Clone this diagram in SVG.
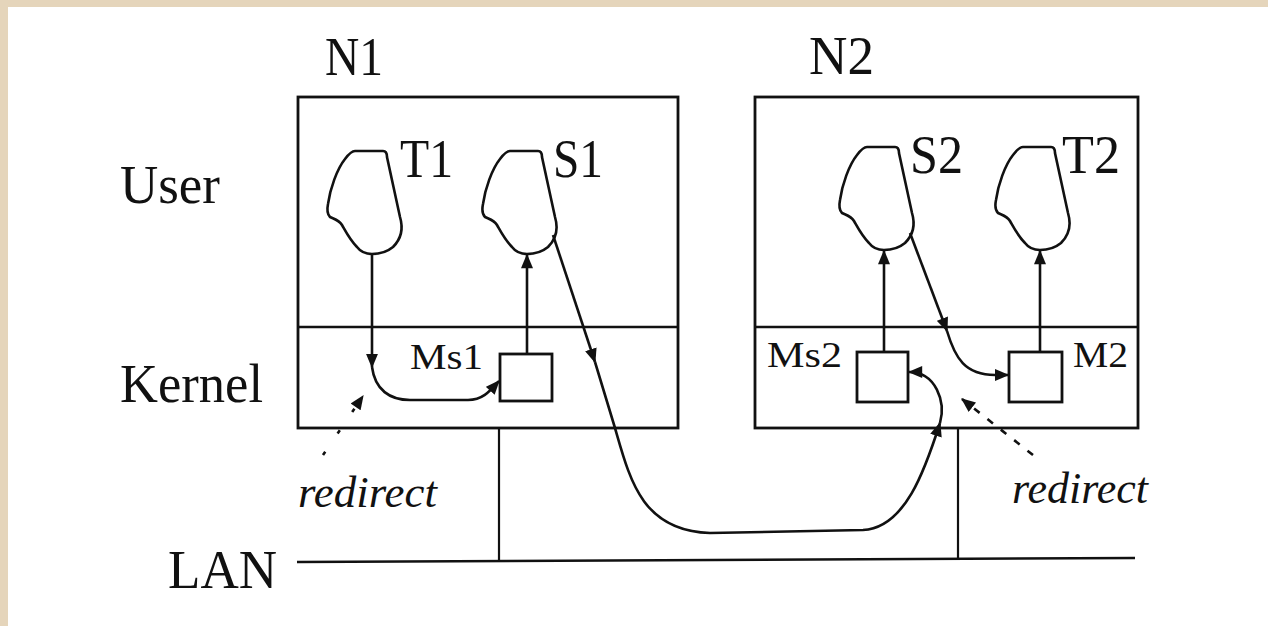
<svg xmlns="http://www.w3.org/2000/svg" width="1268" height="626" viewBox="0 0 1268 626">
<style>
.ln{fill:none;stroke:#111;stroke-width:2.6}
.th{fill:none;stroke:#111;stroke-width:2.2}
.bx{fill:#fff;stroke:#111;stroke-width:2.8}
.t{font-family:"Liberation Serif","Times New Roman",serif;fill:#111}
.big{font-size:54px}
.sm{font-size:35px}
.it{font-size:44px;font-style:italic}
.ds{fill:none;stroke:#111;stroke-width:2.6}
</style>
<defs>
<marker id="ah" viewBox="0 0 12 10" refX="11" refY="5" markerWidth="15" markerHeight="12" markerUnits="userSpaceOnUse" orient="auto">
<path d="M0,0 L12,5 L0,10 Z" fill="#111"/>
</marker>
<path id="blob" d="M0,0 C-7,0 -12,-3 -15,-7 C-22,-14 -26,-22 -30,-29 C-33,-34 -38,-35 -42,-37 C-45,-40 -45,-45 -44,-50 C-42,-65 -35,-85 -27,-95 C-24,-99 -21,-103 -17,-103 L11,-103 C14,-103 15,-100 15,-97 C19,-78 24,-56 28,-37 C31,-27 30,-16 21,-7 C15,-2 8,0 0,0 Z" fill="#fff" stroke="#111" stroke-width="2.6"/>
</defs>
<rect x="0" y="0" width="1268" height="626" fill="#e5d5bb"/>
<rect x="8" y="7" width="1260" height="619" fill="#fff"/>

<g id="labels">
<text class="t big" x="325" y="75" textLength="58" lengthAdjust="spacingAndGlyphs">N1</text>
<text class="t big" x="809" y="74" textLength="65" lengthAdjust="spacingAndGlyphs">N2</text>
<text class="t big" x="120" y="203" textLength="100" lengthAdjust="spacingAndGlyphs">User</text>
<text class="t big" x="120" y="402" textLength="143" lengthAdjust="spacingAndGlyphs">Kernel</text>
<text class="t big" x="168" y="588" textLength="109" lengthAdjust="spacingAndGlyphs">LAN</text>
</g>

<g id="N1">
<rect class="bx" x="298" y="97" width="380" height="331"/>
<line class="ln" x1="298" y1="327" x2="678" y2="327"/>
</g>
<g id="N2">
<rect class="bx" x="755" y="97" width="383" height="331"/>
<line class="ln" x1="755" y1="327" x2="1138" y2="327"/>
</g>

<g id="LAN">
<path class="ln" d="M297,562 L1135,558"/>
</g>

<g id="T1">
<use href="#blob" x="372" y="254"/>
<text class="t big" x="400" y="177" textLength="53" lengthAdjust="spacingAndGlyphs">T1</text>
</g>
<g id="S1">
<use href="#blob" x="527" y="254"/>
<text class="t big" x="553" y="177" textLength="50" lengthAdjust="spacingAndGlyphs">S1</text>
</g>
<g id="S2">
<use href="#blob" x="884" y="250"/>
<text class="t big" x="910" y="173" textLength="53" lengthAdjust="spacingAndGlyphs">S2</text>
</g>
<g id="T2">
<use href="#blob" x="1040" y="250"/>
<text class="t big" x="1062" y="173" textLength="58" lengthAdjust="spacingAndGlyphs">T2</text>
</g>

<g id="Ms1">
<rect class="bx" x="500" y="354" width="52" height="47"/>
<text class="t sm" x="410" y="369" textLength="73" lengthAdjust="spacingAndGlyphs">Ms1</text>
</g>
<g id="Ms2">
<rect class="bx" x="857" y="352" width="51" height="50"/>
<text class="t sm" x="767" y="367" textLength="75" lengthAdjust="spacingAndGlyphs">Ms2</text>
</g>
<g id="M2">
<rect class="bx" x="1009" y="352" width="53" height="50"/>
<text class="t sm" x="1073" y="367" textLength="55" lengthAdjust="spacingAndGlyphs">M2</text>
</g>

<g id="redirect-labels">
<text class="t it" x="298" y="507" textLength="139" lengthAdjust="spacingAndGlyphs">redirect</text>
<text class="t it" x="1012" y="503" textLength="136" lengthAdjust="spacingAndGlyphs">redirect</text>
</g>

<g id="connectors">
<line class="th" x1="499" y1="428" x2="499" y2="561"/>
<line class="th" x1="958" y1="428" x2="958" y2="558"/>
<path class="ln" d="M372,254 L372,367" marker-end="url(#ah)"/>
<path class="ln" d="M372,367 C375,390 390,400 410,400 L468,400 C483,400 490,391 499,381" marker-end="url(#ah)"/>
<path class="ln" d="M527,354 L527,255" marker-end="url(#ah)"/>
<path class="ln" d="M884,352 L884,251" marker-end="url(#ah)"/>
<path class="ln" d="M1040,352 L1040,251" marker-end="url(#ah)"/>
<path class="ln" d="M553,235 L595,362" marker-end="url(#ah)"/>
<path class="ln" d="M595,362 L615,428 C630,480 642,531 710,533 L863,530 C905,528 925,470 940,423" marker-end="url(#ah)"/>
<path class="ln" d="M940,423 C946,402 936,372 909,372" marker-end="url(#ah)"/>
<path class="ln" d="M910,233 L947,331" marker-end="url(#ah)"/>
<path class="ln" d="M947,331 C955,358 965,375 995,375 L1008,375" marker-end="url(#ah)"/>
<path class="ds" d="M323,455 L363,396" stroke-dasharray="4 22" marker-end="url(#ah)"/>
<path class="ds" d="M1033,455 L962,399" stroke-dasharray="7 10" marker-end="url(#ah)"/>
</g>
</svg>
